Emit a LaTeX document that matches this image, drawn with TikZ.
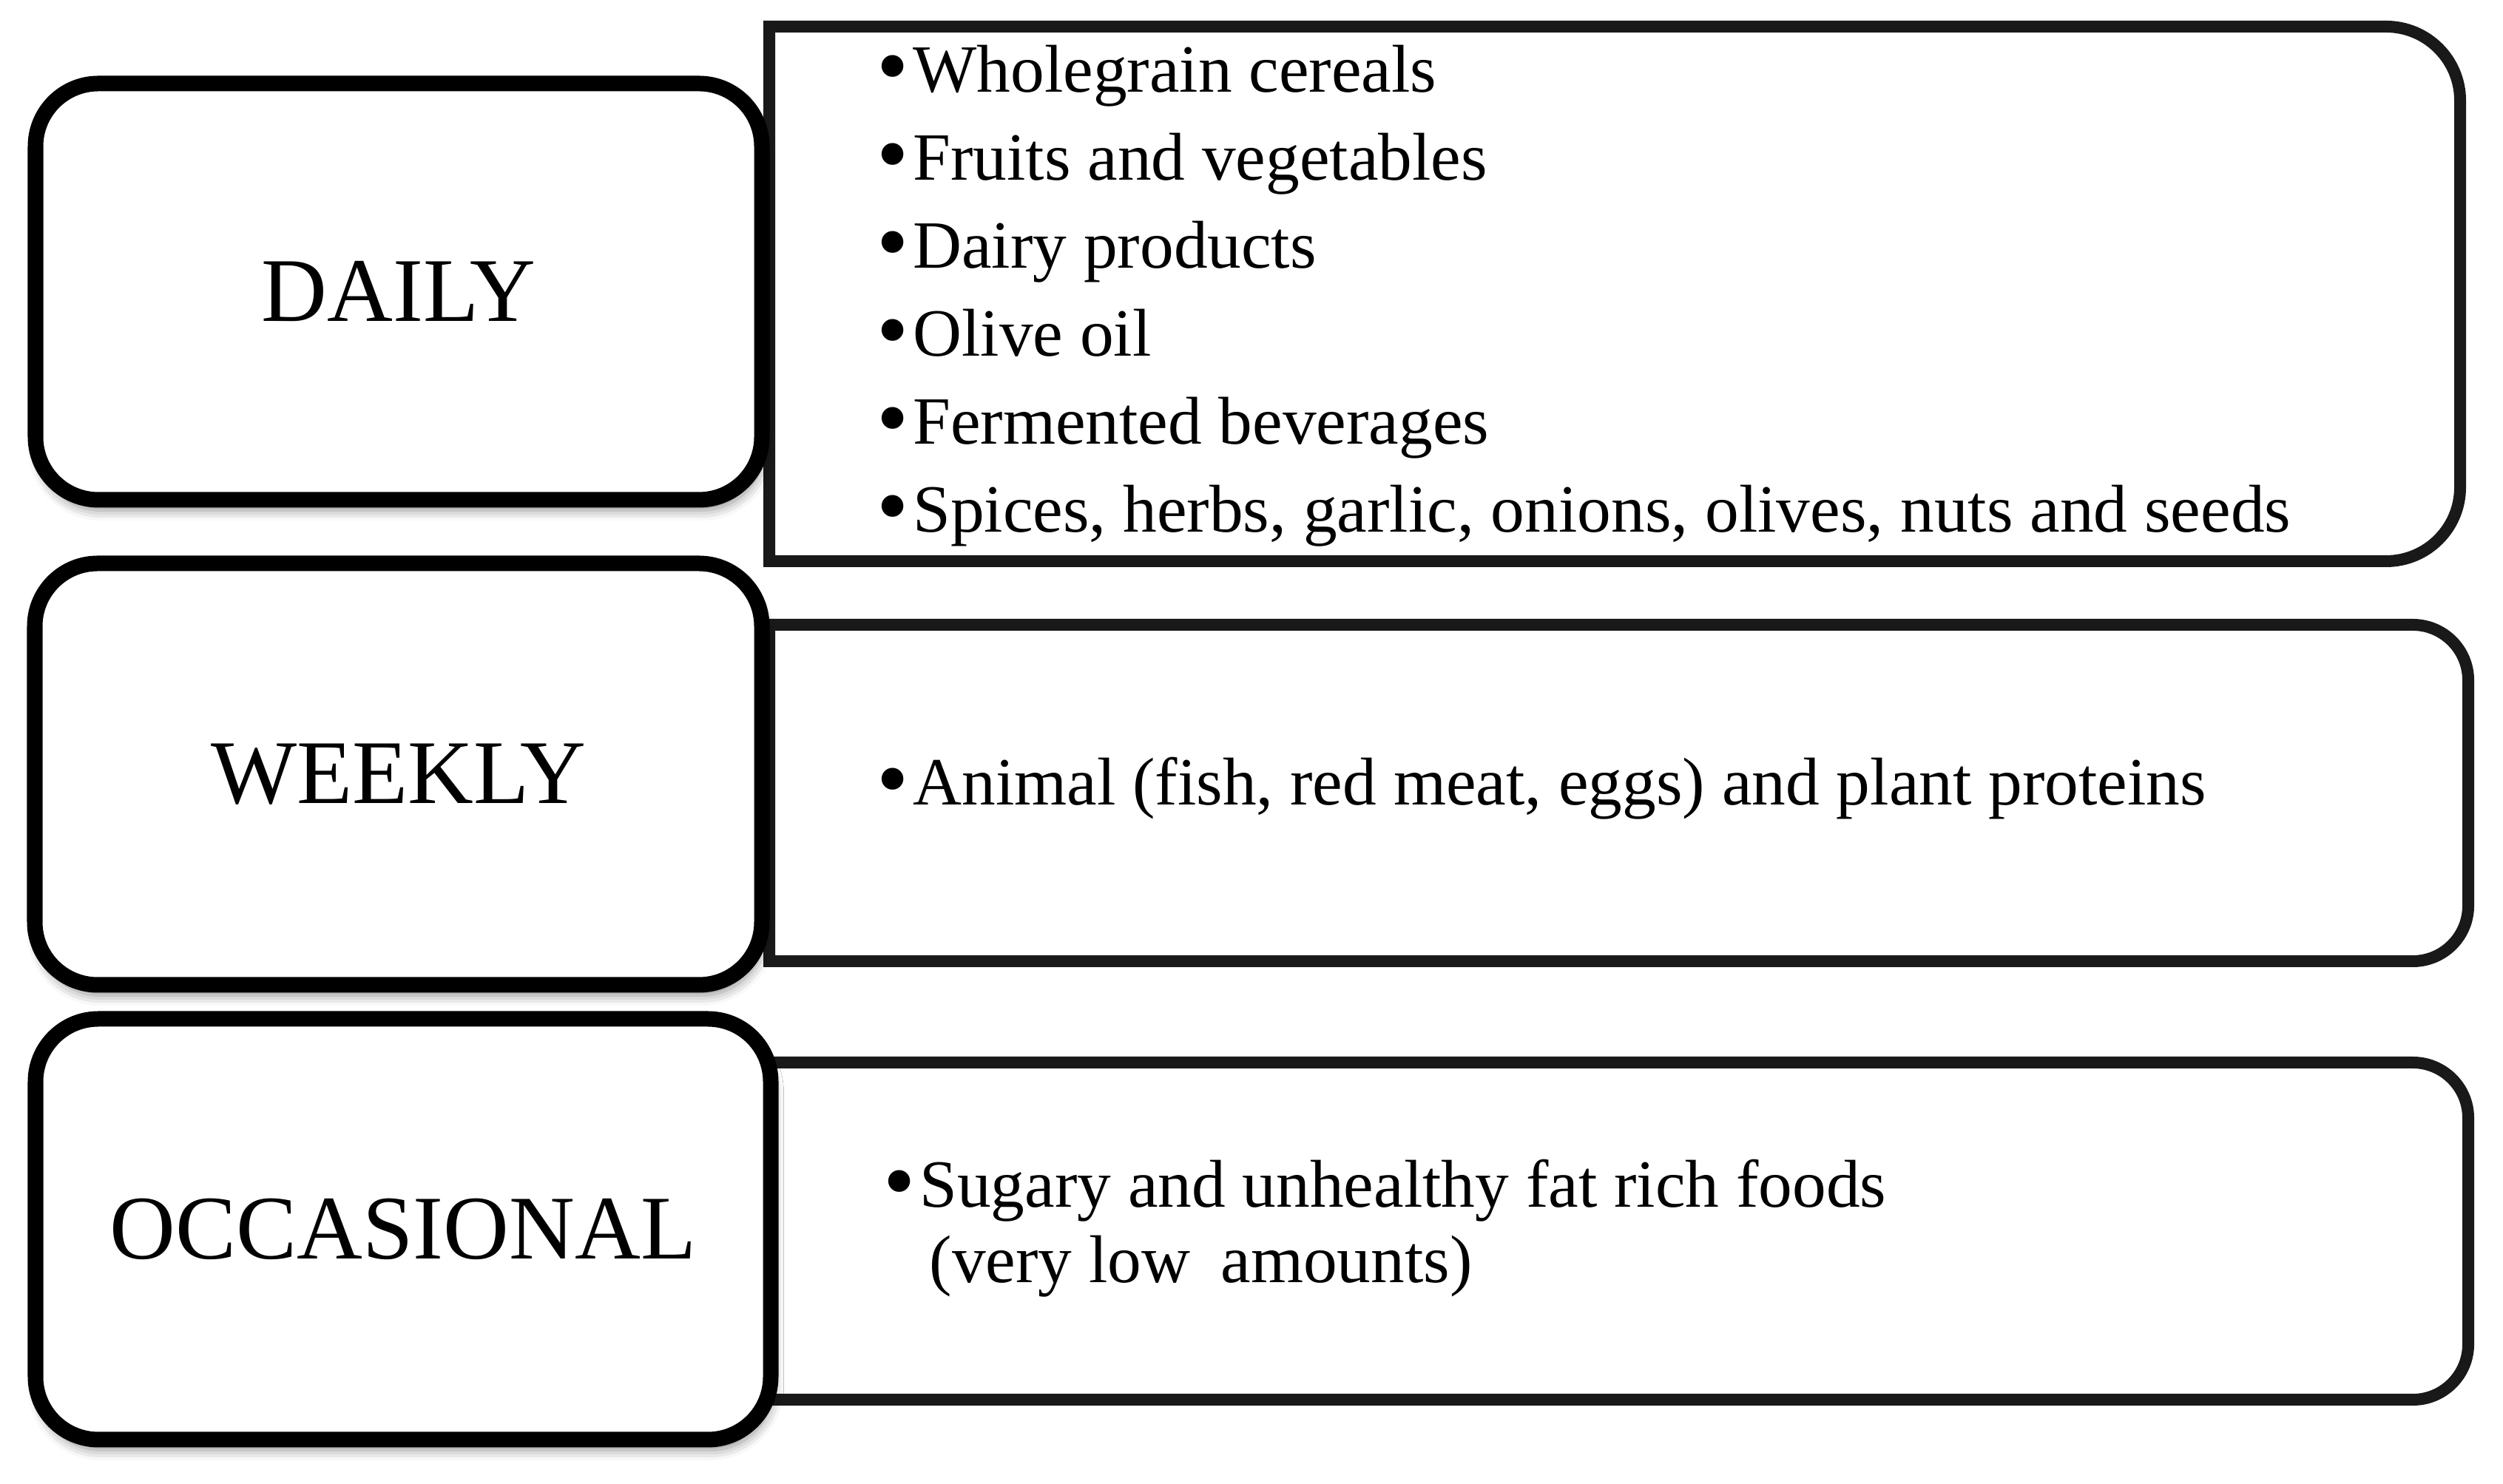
\documentclass[tikz,border=0pt]{standalone}
\usepackage{fontspec}
\usepackage{graphicx}
\setmainfont{Liberation Serif}
\usetikzlibrary{shadows.blur}
\newcommand\bul{\raisebox{-0.06em}{\scalebox{1.35}{\textbullet}}\hspace{0.06em}}
\begin{document}
\begin{tikzpicture}
\useasboundingbox (0,0) rectangle (33.84,20.07);
\tikzset{
  lbox/.style={draw=black, line width=0.21cm, fill=white, rounded corners=0.85cm,
    inner sep=0pt, font=\fontsize{35}{40}\selectfont,
    blur shadow={shadow xshift=1pt, shadow yshift=-4pt, shadow blur radius=4pt, shadow opacity=45}},
  rbox/.style={draw=black!90, line width=0.16cm, fill=white},
  item/.style={anchor=base west, inner sep=0pt, font=\fontsize{26}{31}\selectfont},
}
% right panels
\draw[rbox] (10.40,19.71) -- (32.26,19.71) arc[start angle=90,end angle=0,radius=1.0]
  -- (33.26,13.48) arc[start angle=0,end angle=-90,radius=1.0] -- (10.40,12.48) -- cycle;
\draw[rbox] (10.40,11.62) -- (32.62,11.62) arc[start angle=90,end angle=0,radius=0.75]
  -- (33.37,7.82) arc[start angle=0,end angle=-90,radius=0.75] -- (10.40,7.07) -- cycle;
\draw[rbox] (10.40,5.70) -- (32.62,5.70) arc[start angle=90,end angle=0,radius=0.75]
  -- (33.37,1.89) arc[start angle=0,end angle=-90,radius=0.75] -- (10.40,1.14) -- cycle;
% left boxes
\node[lbox, minimum width=9.82cm, minimum height=5.63cm] (daily) at (5.39,16.125) {DAILY};
\node[lbox, minimum width=9.83cm, minimum height=5.70cm] (weekly) at (5.385,9.60) {WEEKLY};
\node[lbox, minimum width=9.94cm, minimum height=5.69cm] (occ) at (5.45,3.445) {OCCASIONAL};
% daily items
\node[item] (d1) at (11.85,18.82) {\bul Wholegrain cereals};
\node[item] (d2) at (11.85,17.63) {\bul Fruits and vegetables};
\node[item] (d3) at (11.85,16.44) {\bul Dairy products};
\node[item] (d4) at (11.85,15.25) {\bul Olive oil};
\node[item] (d5) at (11.85,14.06) {\bul Fermented beverages};
\node[item] (d6) at (11.85,12.87) {\bul Spices, herbs, garlic, onions, olives, nuts and seeds};
% weekly item
\node[item] (w1) at (11.85,9.18) {\bul Animal (fish, red meat, eggs) and plant proteins};
% occasional item
\node[item] (o1) at (11.94,3.74) {\bul Sugary and unhealthy fat rich foods};
\node[item] (o2) at (12.56,2.72) {(very low\hspace{0.2em} amounts)};
\end{tikzpicture}
\end{document}
